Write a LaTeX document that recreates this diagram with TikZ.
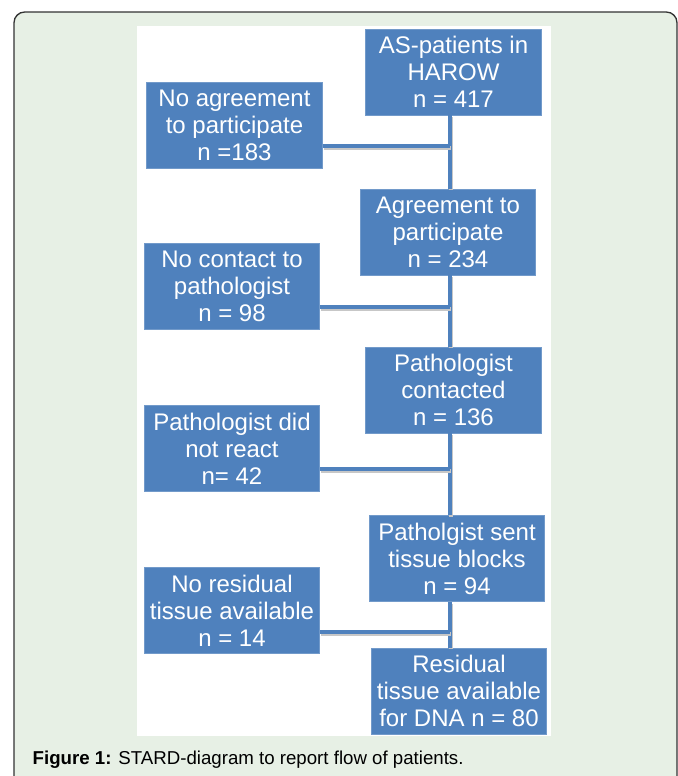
\documentclass[tikz,border=0pt]{standalone}
\usepackage{fontspec}
\setmainfont{Liberation Sans}
\definecolor{boxblue}{HTML}{4F81BD}
\definecolor{panelgreen}{HTML}{E7F0E5}
\definecolor{framegray}{HTML}{333333}
\begin{document}
\begin{tikzpicture}[x=0.75pt,y=-0.75pt,
	flowbox/.style={fill=boxblue,draw=boxblue!80!white,line width=0.6pt,text=white,align=center,
		inner sep=0pt,minimum width=131.5pt,minimum height=64.5pt,font=\fontsize{18}{20.3}\selectfont},
	link/.style={draw=boxblue,line width=2.6pt,
		preaction={draw=black!22,line width=2.6pt,transform canvas={shift={(0.8pt,-1.4pt)}}}}]
	\useasboundingbox (0,0) rectangle (678,776);
	\clip (0,0) rectangle (678,776);
	% frame and panel
	\draw[framegray,fill=panelgreen,rounded corners=8pt,line width=1pt] (14,12) rectangle (677,820);
	\fill[white] (137,26) rectangle (551,736);
	% boxes
	\node[flowbox] (patients) at (453.5,72) {AS-patients in\\HAROW\\n = 417};
	\node[flowbox] (noagree) at (234.5,125.5) {No agreement\\to participate\\n =183};
	\node[flowbox] (agree) at (448,232) {Agreement to\\participate\\n = 234};
	\node[flowbox] (nocontact) at (232,286.5) {No contact to\\pathologist\\n = 98};
	\node[flowbox] (contacted) at (453.5,390) {Pathologist\\contacted\\n = 136};
	\node[flowbox] (noreact) at (232,448.5) {Pathologist did\\not react\\n= 42};
	\node[flowbox] (sent) at (457,558.5) {Patholgist sent\\tissue blocks\\n = 94};
	\node[flowbox] (noresid) at (232,610.5) {No residual\\tissue available\\n = 14};
	\node[flowbox] (resid) at (459,691) {Residual\\tissue available\\for DNA n = 80};
	% junctions on the spine
	\coordinate (j1) at (450,146);
	\coordinate (j2) at (450,307);
	\coordinate (j3) at (450,469);
	\coordinate (j4) at (450,632);
	\draw[link] (patients.south -| j1) -- (agree.north -| j1);
	\draw[link] (noagree.east |- j1) -- (j1);
	\draw[link] (agree.south -| j2) -- (contacted.north -| j2);
	\draw[link] (nocontact.east |- j2) -- (j2);
	\draw[link] (contacted.south -| j3) -- (sent.north -| j3);
	\draw[link] (noreact.east |- j3) -- (j3);
	\draw[link] (sent.south -| j4) -- (resid.north -| j4);
	\draw[link] (noresid.east |- j4) -- (j4);
	\node[anchor=west,font=\fontsize{14}{16}\selectfont] (caption) at (28,760)
		{\textbf{Figure 1:} STARD-diagram to report flow of patients.};
\end{tikzpicture}
\end{document}
